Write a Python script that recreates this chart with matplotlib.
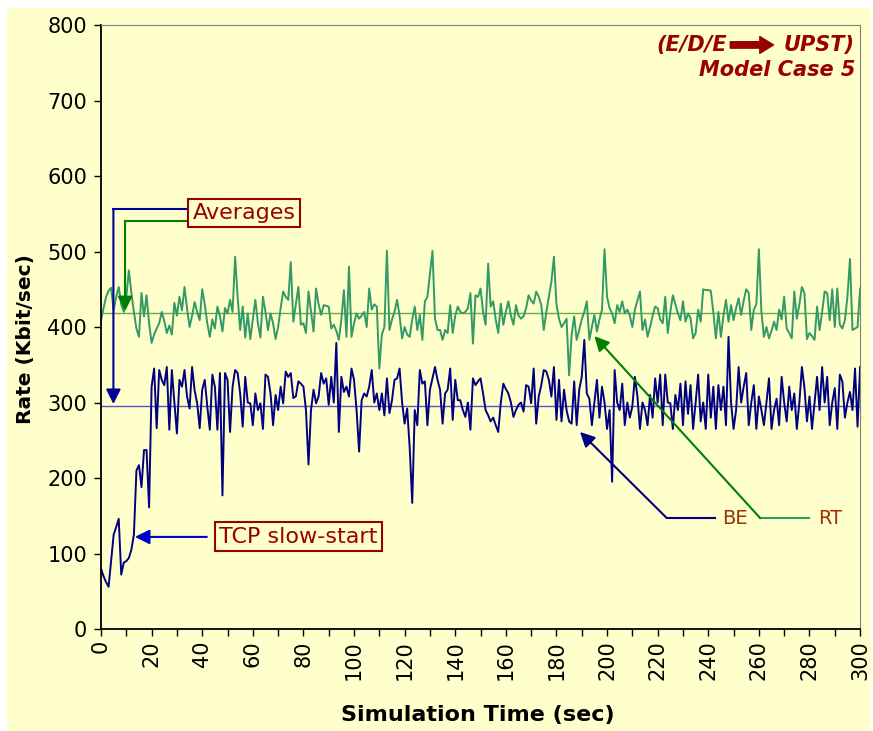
import matplotlib
matplotlib.use('Agg')
import matplotlib.pyplot as plt
from matplotlib.patches import Rectangle

# one sample per second
time_sec = list(range(0, 301))

rt_rate = [
    409, 425, 440, 448, 452, 422, 440, 453, 430, 420,
    440, 475, 445, 420, 398, 387, 445, 414, 442, 405,
    379, 390, 398, 405, 420, 408, 392, 402, 390, 432,
    415, 440, 422, 453, 425, 400, 415, 433, 420, 409,
    450, 430, 405, 387, 410, 398, 427, 415, 394, 425,
    418, 436, 420, 493, 440, 396, 427, 386, 418, 384,
    410, 436, 405, 386, 440, 420, 396, 418, 405, 384,
    400, 425, 447, 440, 436, 486, 407, 430, 453, 403,
    405, 392, 447, 420, 394, 451, 430, 416, 429, 428,
    427, 398, 403, 395, 383, 410, 449, 387, 480, 387,
    405, 418, 411, 415, 420, 400, 451, 423, 430, 427,
    345, 390, 400, 501, 396, 410, 420, 436, 415, 385,
    400, 390, 387, 410, 427, 396, 416, 383, 434, 440,
    470, 501, 411, 396, 396, 383, 396, 392, 429, 392,
    415, 427, 420, 418, 420, 425, 445, 378, 442, 440,
    451, 420, 403, 484, 427, 434, 410, 392, 431, 403,
    420, 434, 415, 403, 429, 415, 411, 414, 425, 442,
    435, 431, 447, 440, 429, 396, 420, 440, 460, 493,
    430, 411, 400, 405, 411, 336, 390, 414, 383, 396,
    410, 420, 434, 383, 400, 416, 394, 410, 423, 503,
    440, 425, 418, 405, 429, 420, 434, 418, 423, 415,
    400, 423, 435, 447, 396, 410, 387, 400, 415, 427,
    425, 410, 405, 440, 392, 420, 442, 430, 418, 409,
    434, 407, 418, 412, 385, 392, 423, 407, 450, 449,
    449, 448, 420, 385, 420, 387, 415, 436, 407, 429,
    409, 425, 438, 416, 435, 450, 445, 396, 423, 430,
    503, 420, 387, 400, 385, 395, 407, 396, 423, 410,
    440, 398, 392, 385, 447, 411, 430, 453, 445, 384,
    392, 388, 383, 427, 396, 420, 447, 445, 409, 450,
    400, 451, 403, 398, 409, 440, 490, 396, 398, 400,
    451,
]

be_rate = [
    80, 70, 62, 56, 91, 125, 135, 146, 72, 88,
    90, 94, 105, 125, 210, 217, 188, 237, 237, 161,
    321, 345, 266, 343, 330, 323, 347, 264, 343, 300,
    259, 330, 321, 343, 308, 292, 347, 316, 299, 266,
    317, 330, 295, 264, 337, 321, 264, 339, 177, 339,
    330, 261, 321, 343, 339, 312, 268, 334, 300, 299,
    270, 312, 290, 299, 265, 337, 334, 312, 270, 310,
    290, 321, 299, 341, 334, 339, 306, 308, 328, 325,
    321, 290, 218, 290, 317, 299, 308, 339, 325, 332,
    297, 334, 300, 379, 261, 334, 314, 321, 308, 345,
    330, 290, 235, 303, 312, 308, 321, 343, 300, 312,
    290, 312, 283, 332, 286, 303, 330, 332, 345, 300,
    272, 292, 240, 167, 290, 270, 343, 325, 328, 270,
    317, 332, 347, 330, 317, 272, 312, 317, 345, 277,
    330, 303, 303, 290, 281, 300, 264, 332, 323, 328,
    332, 312, 290, 283, 275, 280, 270, 261, 300, 325,
    318, 312, 300, 281, 290, 297, 300, 288, 323, 321,
    299, 345, 272, 308, 323, 343, 341, 330, 308, 347,
    277, 330, 275, 317, 290, 275, 272, 328, 270, 317,
    334, 383, 312, 305, 270, 300, 330, 280, 321, 300,
    265, 290, 195, 343, 300, 290, 325, 270, 300, 280,
    295, 334, 308, 265, 300, 290, 270, 310, 280, 332,
    300, 337, 270, 337, 300, 299, 265, 310, 290, 325,
    270, 328, 285, 323, 265, 300, 337, 275, 300, 265,
    337, 280, 321, 265, 323, 290, 321, 270, 387, 300,
    265, 290, 347, 300, 321, 339, 270, 300, 323, 265,
    308, 290, 270, 300, 332, 265, 290, 305, 270, 334,
    300, 275, 321, 290, 312, 265, 300, 347, 320, 275,
    308, 265, 300, 334, 290, 347, 300, 334, 270, 300,
    319, 265, 337, 328, 280, 300, 314, 290, 345, 268,
    347,
]

rt_avg = 419
be_avg = 296

x_ticks = list(range(0, 301, 20))
y_ticks = list(range(0, 801, 100))

bg = '#FFFFCC'
dark_red = '#990000'

fig = plt.figure(figsize=(8.73, 7.31), dpi=100, facecolor='white')
fig.patches.append(Rectangle((0.008, 0.0), 0.99, 0.989, transform=fig.transFigure,
                             facecolor=bg, edgecolor='none', zorder=-1))
ax = fig.add_axes([0.1157, 0.1395, 0.8695, 0.8263])
ax.set_facecolor(bg)

# averages and data
ax.axhline(rt_avg, color='#66AA44', lw=1.0, zorder=1)
ax.axhline(be_avg, color='#5555CC', lw=1.0, zorder=1)
ax.plot(time_sec, rt_rate, color='#339966', lw=1.4, zorder=2)
ax.plot(time_sec, be_rate, color='#000080', lw=1.4, zorder=2)

ax.set_xlim(0, 300)
ax.set_ylim(0, 800)
ax.set_xticks(x_ticks)
ax.set_xticks(range(0, 301, 10), minor=True)
ax.set_yticks(y_ticks)
ax.set_xticklabels([str(v) for v in x_ticks], rotation=90)
ax.tick_params(axis='both', labelsize=15, direction='out', length=5, width=1)
ax.tick_params(axis='x', which='minor', direction='out', length=5, width=1)
ax.tick_params(axis='x', pad=3)
ax.tick_params(axis='y', pad=5)

for side in ['top', 'right']:
    ax.spines[side].set_color('#808080')
for side in ['left', 'bottom']:
    ax.spines[side].set_linewidth(1.3)

ax.set_xlabel('Simulation Time (sec)', fontsize=16, fontweight='bold', va='center')
ax.xaxis.set_label_coords(0.497, -0.142)
ax.set_ylabel('Rate (Kbit/sec)', fontsize=14.5, fontweight='bold', va='center')
ax.yaxis.set_label_coords(-0.1, 0.48)

# "Averages" callout
box = dict(boxstyle='square,pad=0.2', facecolor=bg, edgecolor=dark_red, lw=1.5)
ax.text(56.5, 551, 'Averages', fontsize=16, color=dark_red, ha='center', va='center', bbox=box)
ax.plot([34.4, 4.9], [556, 556], color='#000099', lw=1.5)
ax.annotate('', xy=(4.9, be_avg + 2), xytext=(4.9, 556),
            arrowprops=dict(arrowstyle='-|>', color='#000099', lw=1.5, mutation_scale=22,
                            shrinkA=0, shrinkB=0))
ax.plot([34.4, 9.5], [540, 540], color='#008000', lw=1.5)
ax.annotate('', xy=(9.5, rt_avg + 2), xytext=(9.5, 540),
            arrowprops=dict(arrowstyle='-|>', color='#008000', lw=1.5, mutation_scale=22,
                            shrinkA=0, shrinkB=0))

# "TCP slow-start" callout
ax.text(78, 122, 'TCP slow-start', fontsize=16, color=dark_red, ha='center', va='center', bbox=box)
ax.annotate('', xy=(13.4, 122), xytext=(41.8, 122),
            arrowprops=dict(arrowstyle='-|>', color='#0000CC', lw=1.5, mutation_scale=22,
                            shrinkA=0, shrinkB=0))

# BE / RT labels
ax.plot([242.7, 223.6], [147, 147], color='#000080', lw=1.5)
ax.annotate('', xy=(189.3, 261), xytext=(223.6, 147),
            arrowprops=dict(arrowstyle='-|>', color='#000080', lw=1.5, mutation_scale=22,
                            shrinkA=0, shrinkB=0))
ax.text(250.5, 147, 'BE', fontsize=14, color='#993300', ha='center', va='center')
ax.plot([280, 260.5], [147, 147], color='#339966', lw=1.5)
ax.annotate('', xy=(195, 388), xytext=(260.5, 147),
            arrowprops=dict(arrowstyle='-|>', color='#008000', lw=1.5, mutation_scale=22,
                            shrinkA=0, shrinkB=0))
ax.text(288, 147, 'RT', fontsize=14, color='#993300', ha='center', va='center')

# case title
ax.text(0.825, 0.967, '(E/D/E', transform=ax.transAxes, fontsize=15, color=dark_red,
        fontweight='bold', style='italic', ha='right', va='center')
ax.annotate('', xy=(0.886, 0.967), xytext=(0.829, 0.967), xycoords='axes fraction',
            arrowprops=dict(arrowstyle='simple,head_width=1.1,head_length=0.9,tail_width=0.42',
                            color=dark_red, mutation_scale=11, shrinkA=0, shrinkB=0))
ax.text(0.9934, 0.967, 'UPST)', transform=ax.transAxes, fontsize=15, color=dark_red,
        fontweight='bold', style='italic', ha='right', va='center')
ax.text(0.9934, 0.925, 'Model Case 5', transform=ax.transAxes, fontsize=15, color=dark_red,
        fontweight='bold', style='italic', ha='right', va='center')

fig.savefig('out.png', dpi=100, facecolor=fig.get_facecolor())
